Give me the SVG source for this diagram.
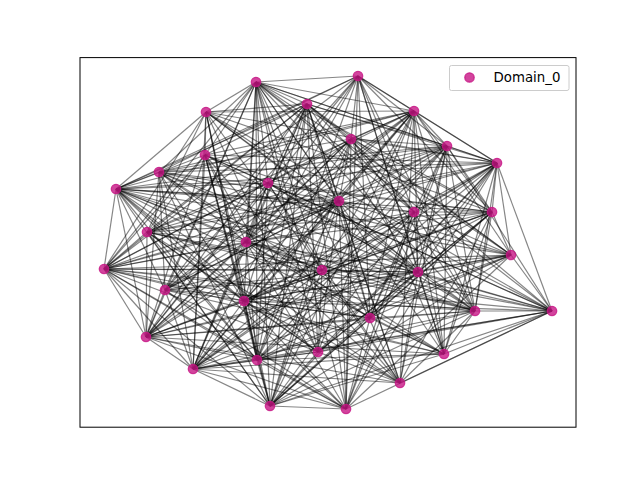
<svg xmlns="http://www.w3.org/2000/svg" width="640" height="480" viewBox="0 0 640 480">
<style>
#edges path{stroke:#000;stroke-opacity:0.48;stroke-width:1.2;fill:none}
.node circle{fill:#c71585;fill-opacity:0.8;stroke:#c71585;stroke-opacity:0.8;stroke-width:1.33}
text{font-family:"DejaVu Sans","Liberation Sans",sans-serif;font-size:13.33px;fill:#000}
</style>
<rect x="0" y="0" width="640" height="480" fill="#fff"/>
<g id="edges">
<path d="M256 82L358 76"/><path d="M256 82L206 112"/><path d="M256 82L414 111"/><path d="M256 82L447 146"/><path d="M256 82L205 155"/><path d="M256 82L497 163"/><path d="M256 82L268 183"/><path d="M256 82L339 201"/><path d="M256 82L414 212"/><path d="M256 82L492 212"/><path d="M256 82L511 255"/><path d="M256 82L104 269"/><path d="M256 82L322 270"/><path d="M256 82L165 290"/><path d="M256 82L244 301"/><path d="M256 82L475 311"/><path d="M256 82L146 337"/><path d="M256 82L318 352"/><path d="M256 82L257 360"/><path d="M256 82L444 354"/><path d="M256 82L400 383"/><path d="M256 82L270 406"/><path d="M256 82L346 409"/>
<path d="M256 82L307 104"/><path d="M256 82L159 172"/><path d="M256 82L246 242"/><path d="M256 82L552 311"/>
<path d="M358 76L414 111"/><path d="M358 76L351 139"/><path d="M358 76L447 146"/><path d="M358 76L159 172"/><path d="M358 76L116 189"/><path d="M358 76L414 212"/><path d="M358 76L492 212"/><path d="M358 76L246 242"/><path d="M358 76L104 269"/><path d="M358 76L418 272"/><path d="M358 76L165 290"/><path d="M358 76L475 311"/><path d="M358 76L370 318"/><path d="M358 76L146 337"/><path d="M358 76L257 360"/><path d="M358 76L193 369"/><path d="M358 76L346 409"/>
<path d="M358 76L497 163"/><path d="M358 76L444 354"/>
<path d="M307 104L206 112"/><path d="M307 104L351 139"/><path d="M307 104L447 146"/><path d="M307 104L497 163"/><path d="M307 104L116 189"/><path d="M307 104L268 183"/><path d="M307 104L339 201"/><path d="M307 104L414 212"/><path d="M307 104L147 232"/><path d="M307 104L246 242"/><path d="M307 104L511 255"/><path d="M307 104L104 269"/><path d="M307 104L418 272"/><path d="M307 104L244 301"/><path d="M307 104L552 311"/><path d="M307 104L370 318"/><path d="M307 104L146 337"/><path d="M307 104L318 352"/><path d="M307 104L193 369"/><path d="M307 104L400 383"/><path d="M307 104L270 406"/><path d="M307 104L346 409"/>
<path d="M307 104L205 155"/><path d="M307 104L165 290"/><path d="M307 104L257 360"/>
<path d="M206 112L414 111"/><path d="M206 112L205 155"/><path d="M206 112L497 163"/><path d="M206 112L116 189"/><path d="M206 112L339 201"/><path d="M206 112L492 212"/><path d="M206 112L147 232"/><path d="M206 112L104 269"/><path d="M206 112L322 270"/><path d="M206 112L244 301"/><path d="M206 112L552 311"/><path d="M206 112L475 311"/><path d="M206 112L257 360"/><path d="M206 112L193 369"/><path d="M206 112L270 406"/>
<path d="M206 112L418 272"/><path d="M206 112L318 352"/>
<path d="M414 111L447 146"/><path d="M414 111L205 155"/><path d="M414 111L497 163"/><path d="M414 111L159 172"/><path d="M414 111L116 189"/><path d="M414 111L268 183"/><path d="M414 111L492 212"/><path d="M414 111L147 232"/><path d="M414 111L246 242"/><path d="M414 111L511 255"/><path d="M414 111L418 272"/><path d="M414 111L165 290"/><path d="M414 111L244 301"/><path d="M414 111L475 311"/><path d="M414 111L370 318"/><path d="M414 111L318 352"/><path d="M414 111L444 354"/><path d="M414 111L193 369"/><path d="M414 111L400 383"/><path d="M414 111L270 406"/>
<path d="M414 111L351 139"/><path d="M414 111L339 201"/><path d="M414 111L322 270"/><path d="M414 111L146 337"/>
<path d="M351 139L447 146"/><path d="M351 139L497 163"/><path d="M351 139L159 172"/><path d="M351 139L339 201"/><path d="M351 139L414 212"/><path d="M351 139L492 212"/><path d="M351 139L246 242"/><path d="M351 139L511 255"/><path d="M351 139L165 290"/><path d="M351 139L244 301"/><path d="M351 139L475 311"/><path d="M351 139L146 337"/><path d="M351 139L257 360"/><path d="M351 139L444 354"/><path d="M351 139L346 409"/>
<path d="M351 139L104 269"/><path d="M351 139L270 406"/>
<path d="M447 146L497 163"/><path d="M447 146L159 172"/><path d="M447 146L268 183"/><path d="M447 146L414 212"/><path d="M447 146L492 212"/><path d="M447 146L147 232"/><path d="M447 146L246 242"/><path d="M447 146L104 269"/><path d="M447 146L322 270"/><path d="M447 146L418 272"/><path d="M447 146L165 290"/><path d="M447 146L552 311"/><path d="M447 146L370 318"/><path d="M447 146L146 337"/><path d="M447 146L257 360"/><path d="M447 146L444 354"/><path d="M447 146L193 369"/><path d="M447 146L346 409"/>
<path d="M447 146L116 189"/><path d="M447 146L475 311"/><path d="M447 146L400 383"/>
<path d="M205 155L497 163"/><path d="M205 155L116 189"/><path d="M205 155L268 183"/><path d="M205 155L339 201"/><path d="M205 155L147 232"/><path d="M205 155L104 269"/><path d="M205 155L418 272"/><path d="M205 155L244 301"/><path d="M205 155L146 337"/><path d="M205 155L318 352"/><path d="M205 155L257 360"/><path d="M205 155L400 383"/><path d="M205 155L270 406"/>
<path d="M205 155L246 242"/><path d="M205 155L552 311"/><path d="M205 155L193 369"/>
<path d="M497 163L159 172"/><path d="M497 163L116 189"/><path d="M497 163L339 201"/><path d="M497 163L414 212"/><path d="M497 163L492 212"/><path d="M497 163L511 255"/><path d="M497 163L104 269"/><path d="M497 163L322 270"/><path d="M497 163L418 272"/><path d="M497 163L552 311"/><path d="M497 163L475 311"/><path d="M497 163L370 318"/><path d="M497 163L318 352"/><path d="M497 163L257 360"/><path d="M497 163L193 369"/><path d="M497 163L270 406"/><path d="M497 163L346 409"/>
<path d="M497 163L147 232"/><path d="M497 163L244 301"/><path d="M497 163L444 354"/>
<path d="M159 172L116 189"/><path d="M159 172L339 201"/><path d="M159 172L246 242"/><path d="M159 172L511 255"/><path d="M159 172L418 272"/><path d="M159 172L244 301"/><path d="M159 172L475 311"/><path d="M159 172L370 318"/><path d="M159 172L146 337"/><path d="M159 172L444 354"/><path d="M159 172L193 369"/><path d="M159 172L270 406"/>
<path d="M159 172L492 212"/><path d="M159 172L165 290"/>
<path d="M116 189L268 183"/><path d="M116 189L339 201"/><path d="M116 189L492 212"/><path d="M116 189L246 242"/><path d="M116 189L511 255"/><path d="M116 189L104 269"/><path d="M116 189L322 270"/><path d="M116 189L165 290"/><path d="M116 189L244 301"/><path d="M116 189L552 311"/><path d="M116 189L475 311"/><path d="M116 189L146 337"/><path d="M116 189L257 360"/><path d="M116 189L444 354"/><path d="M116 189L400 383"/><path d="M116 189L270 406"/><path d="M116 189L346 409"/>
<path d="M116 189L414 212"/><path d="M116 189L318 352"/>
<path d="M268 183L492 212"/><path d="M268 183L147 232"/><path d="M268 183L246 242"/><path d="M268 183L104 269"/><path d="M268 183L418 272"/><path d="M268 183L552 311"/><path d="M268 183L475 311"/><path d="M268 183L257 360"/><path d="M268 183L193 369"/><path d="M268 183L400 383"/>
<path d="M268 183L322 270"/><path d="M268 183L146 337"/>
<path d="M339 201L414 212"/><path d="M339 201L147 232"/><path d="M339 201L246 242"/><path d="M339 201L511 255"/><path d="M339 201L418 272"/><path d="M339 201L165 290"/><path d="M339 201L244 301"/><path d="M339 201L552 311"/><path d="M339 201L146 337"/><path d="M339 201L318 352"/><path d="M339 201L257 360"/><path d="M339 201L193 369"/><path d="M339 201L400 383"/><path d="M339 201L346 409"/>
<path d="M339 201L104 269"/><path d="M339 201L370 318"/><path d="M339 201L270 406"/>
<path d="M414 212L492 212"/><path d="M414 212L104 269"/><path d="M414 212L418 272"/><path d="M414 212L244 301"/><path d="M414 212L370 318"/><path d="M414 212L257 360"/><path d="M414 212L444 354"/><path d="M414 212L193 369"/><path d="M414 212L270 406"/><path d="M414 212L346 409"/>
<path d="M414 212L511 255"/><path d="M414 212L475 311"/>
<path d="M492 212L147 232"/><path d="M492 212L511 255"/><path d="M492 212L322 270"/><path d="M492 212L418 272"/><path d="M492 212L165 290"/><path d="M492 212L244 301"/><path d="M492 212L475 311"/><path d="M492 212L370 318"/><path d="M492 212L146 337"/><path d="M492 212L318 352"/><path d="M492 212L444 354"/><path d="M492 212L400 383"/><path d="M492 212L270 406"/>
<path d="M492 212L246 242"/><path d="M492 212L193 369"/>
<path d="M147 232L246 242"/><path d="M147 232L104 269"/><path d="M147 232L322 270"/><path d="M147 232L552 311"/><path d="M147 232L475 311"/><path d="M147 232L146 337"/><path d="M147 232L318 352"/><path d="M147 232L257 360"/><path d="M147 232L400 383"/><path d="M147 232L270 406"/>
<path d="M147 232L244 301"/>
<path d="M246 242L104 269"/><path d="M246 242L322 270"/><path d="M246 242L418 272"/><path d="M246 242L552 311"/><path d="M246 242L475 311"/><path d="M246 242L370 318"/><path d="M246 242L146 337"/><path d="M246 242L444 354"/><path d="M246 242L193 369"/><path d="M246 242L400 383"/><path d="M246 242L346 409"/>
<path d="M246 242L165 290"/><path d="M246 242L257 360"/>
<path d="M511 255L104 269"/><path d="M511 255L165 290"/><path d="M511 255L244 301"/><path d="M511 255L552 311"/><path d="M511 255L370 318"/><path d="M511 255L146 337"/><path d="M511 255L257 360"/><path d="M511 255L193 369"/><path d="M511 255L270 406"/><path d="M511 255L346 409"/>
<path d="M511 255L418 272"/>
<path d="M104 269L418 272"/><path d="M104 269L244 301"/><path d="M104 269L552 311"/><path d="M104 269L475 311"/><path d="M104 269L370 318"/><path d="M104 269L146 337"/><path d="M104 269L318 352"/><path d="M104 269L257 360"/><path d="M104 269L444 354"/><path d="M104 269L193 369"/><path d="M104 269L270 406"/>
<path d="M104 269L322 270"/><path d="M104 269L346 409"/>
<path d="M322 270L418 272"/><path d="M322 270L244 301"/><path d="M322 270L475 311"/><path d="M322 270L146 337"/><path d="M322 270L318 352"/><path d="M322 270L193 369"/><path d="M322 270L400 383"/>
<path d="M322 270L270 406"/>
<path d="M418 272L165 290"/><path d="M418 272L244 301"/><path d="M418 272L552 311"/><path d="M418 272L146 337"/><path d="M418 272L318 352"/><path d="M418 272L257 360"/><path d="M418 272L444 354"/><path d="M418 272L270 406"/><path d="M418 272L346 409"/>
<path d="M418 272L475 311"/><path d="M418 272L400 383"/>
<path d="M165 290L475 311"/><path d="M165 290L370 318"/><path d="M165 290L146 337"/><path d="M165 290L257 360"/><path d="M165 290L444 354"/><path d="M165 290L346 409"/>
<path d="M165 290L193 369"/>
<path d="M244 301L552 311"/><path d="M244 301L370 318"/><path d="M244 301L146 337"/><path d="M244 301L318 352"/><path d="M244 301L257 360"/><path d="M244 301L193 369"/><path d="M244 301L400 383"/><path d="M244 301L270 406"/><path d="M244 301L346 409"/>
<path d="M552 311L475 311"/><path d="M552 311L318 352"/><path d="M552 311L444 354"/><path d="M552 311L193 369"/><path d="M552 311L400 383"/><path d="M552 311L270 406"/><path d="M552 311L346 409"/>
<path d="M552 311L257 360"/>
<path d="M475 311L370 318"/><path d="M475 311L146 337"/><path d="M475 311L444 354"/><path d="M475 311L193 369"/><path d="M475 311L400 383"/><path d="M475 311L270 406"/>
<path d="M475 311L318 352"/>
<path d="M370 318L257 360"/><path d="M370 318L444 354"/><path d="M370 318L270 406"/>
<path d="M370 318L146 337"/><path d="M370 318L346 409"/>
<path d="M146 337L257 360"/><path d="M146 337L444 354"/><path d="M146 337L193 369"/><path d="M146 337L400 383"/><path d="M146 337L346 409"/>
<path d="M318 352L257 360"/><path d="M318 352L193 369"/><path d="M318 352L270 406"/>
<path d="M318 352L400 383"/>
<path d="M257 360L444 354"/><path d="M257 360L270 406"/><path d="M257 360L346 409"/>
<path d="M257 360L193 369"/>
<path d="M444 354L193 369"/><path d="M444 354L270 406"/>
<path d="M193 369L400 383"/><path d="M193 369L270 406"/><path d="M193 369L346 409"/>
<path d="M270 406L346 409"/>
</g>
<g id="nodes">
<g id="n0" class="node"><circle cx="256" cy="82" r="4.7"/></g>
<g id="n1" class="node"><circle cx="358" cy="76" r="4.7"/></g>
<g id="n2" class="node"><circle cx="307" cy="104" r="4.7"/></g>
<g id="n3" class="node"><circle cx="206" cy="112" r="4.7"/></g>
<g id="n4" class="node"><circle cx="414" cy="111" r="4.7"/></g>
<g id="n5" class="node"><circle cx="351" cy="139" r="4.7"/></g>
<g id="n6" class="node"><circle cx="447" cy="146" r="4.7"/></g>
<g id="n7" class="node"><circle cx="205" cy="155" r="4.7"/></g>
<g id="n8" class="node"><circle cx="497" cy="163" r="4.7"/></g>
<g id="n9" class="node"><circle cx="159" cy="172" r="4.7"/></g>
<g id="n10" class="node"><circle cx="116" cy="189" r="4.7"/></g>
<g id="n11" class="node"><circle cx="268" cy="183" r="4.7"/></g>
<g id="n12" class="node"><circle cx="339" cy="201" r="4.7"/></g>
<g id="n13" class="node"><circle cx="414" cy="212" r="4.7"/></g>
<g id="n14" class="node"><circle cx="492" cy="212" r="4.7"/></g>
<g id="n15" class="node"><circle cx="147" cy="232" r="4.7"/></g>
<g id="n16" class="node"><circle cx="246" cy="242" r="4.7"/></g>
<g id="n17" class="node"><circle cx="511" cy="255" r="4.7"/></g>
<g id="n18" class="node"><circle cx="104" cy="269" r="4.7"/></g>
<g id="n19" class="node"><circle cx="322" cy="270" r="4.7"/></g>
<g id="n20" class="node"><circle cx="418" cy="272" r="4.7"/></g>
<g id="n21" class="node"><circle cx="165" cy="290" r="4.7"/></g>
<g id="n22" class="node"><circle cx="244" cy="301" r="4.7"/></g>
<g id="n23" class="node"><circle cx="552" cy="311" r="4.7"/></g>
<g id="n24" class="node"><circle cx="475" cy="311" r="4.7"/></g>
<g id="n25" class="node"><circle cx="370" cy="318" r="4.7"/></g>
<g id="n26" class="node"><circle cx="146" cy="337" r="4.7"/></g>
<g id="n27" class="node"><circle cx="318" cy="352" r="4.7"/></g>
<g id="n28" class="node"><circle cx="257" cy="360" r="4.7"/></g>
<g id="n29" class="node"><circle cx="444" cy="354" r="4.7"/></g>
<g id="n30" class="node"><circle cx="193" cy="369" r="4.7"/></g>
<g id="n31" class="node"><circle cx="400" cy="383" r="4.7"/></g>
<g id="n32" class="node"><circle cx="270" cy="406" r="4.7"/></g>
<g id="n33" class="node"><circle cx="346" cy="409" r="4.7"/></g>
</g>
<rect x="80" y="57.6" width="496" height="369.6" fill="none" stroke="#000" stroke-width="1"/>
<g id="legend">
<rect x="449.5" y="65.5" width="119.5" height="25" rx="2" fill="#fff" fill-opacity="0.8" stroke="#ccc" stroke-width="1"/>
<g class="node"><circle cx="469.5" cy="77.5" r="4.7"/></g>
<text x="493.5" y="82.3">Domain_0</text>
</g>
</svg>
